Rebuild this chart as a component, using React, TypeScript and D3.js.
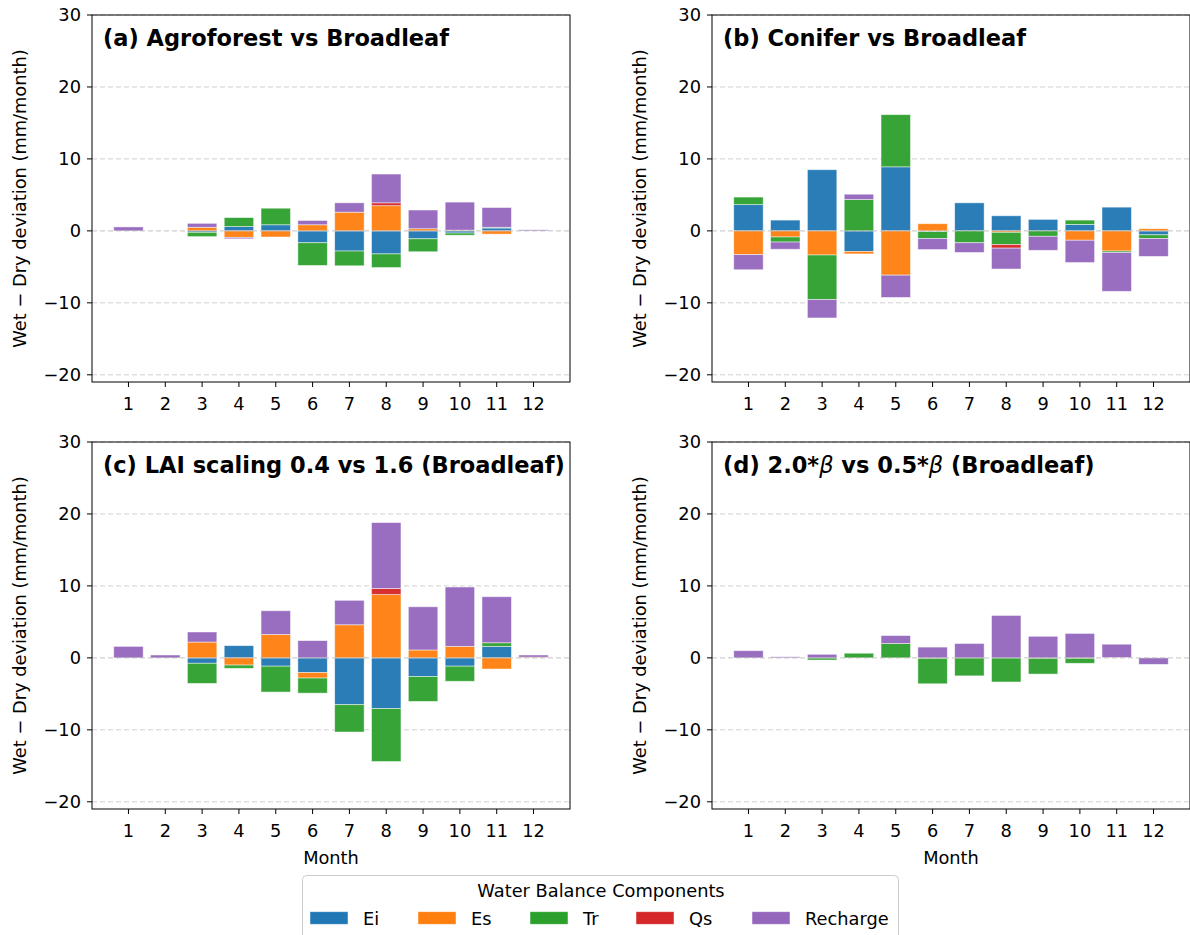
import React from 'react';
import * as d3 from 'd3';

const months = [1, 2, 3, 4, 5, 6, 7, 8, 9, 10, 11, 12];
const components = ['Ei', 'Es', 'Tr', 'Qs', 'Recharge'];
const compColors = ['#1f77b4', '#ff7f0e', '#2ca02c', '#d62728', '#9467bd'];
const yTicks = [-20, -10, 0, 10, 20, 30];

// (a) Agroforest vs Broadleaf
const agroEi = [0, 0, -0.2, 0.6, 0.85, -1.65, -2.8, -3.2, -1.1, -0.3, 0.4, 0];
const agroEs = [0, 0, 0.5, -0.9, -0.85, 0.85, 2.6, 3.5, 0.3, 0.1, -0.45, 0];
const agroTr = [0, 0, -0.6, 1.25, 2.3, -3.15, -2.05, -1.9, -1.8, -0.3, 0.1, 0];
const agroQs = [0, 0, 0, 0, 0, 0, 0, 0.4, 0, 0, 0, 0];
const agroRe = [0.55, 0, 0.55, -0.2, 0, 0.6, 1.3, 4.0, 2.6, 3.9, 2.75, 0.15];

// (b) Conifer vs Broadleaf
const conEi = [3.65, 1.5, 8.5, -2.85, 8.9, -0.1, 3.9, 2.1, 1.6, 0.9, 3.3, -0.55];
const conEs = [-3.3, -0.85, -3.35, -0.35, -6.15, 1.0, 0, -0.2, 0, -1.3, -2.8, 0.3];
const conTr = [1.05, -0.7, -6.2, 4.35, 7.25, -0.95, -1.65, -1.7, -0.75, 0.6, -0.2, -0.5];
const conQs = [0, 0, 0, 0, 0, 0, 0, -0.5, 0, 0, 0, 0];
const conRe = [-2.1, -1.0, -2.55, 0.75, -3.1, -1.55, -1.35, -2.9, -1.95, -3.1, -5.4, -2.5];

// (c) LAI scaling
const laiEi = [0, 0, -0.75, 1.7, -1.15, -2.05, -6.5, -7.05, -2.6, -1.15, 1.6, 0];
const laiEs = [0, 0, 2.2, -1.0, 3.25, -0.75, 4.6, 8.8, 1.1, 1.6, -1.55, 0.1];
const laiTr = [0, 0, -2.8, -0.45, -3.6, -2.1, -3.8, -7.35, -3.45, -2.1, 0.5, 0];
const laiQs = [0, 0, 0, 0, 0, 0, 0, 0.85, 0, 0, 0, 0];
const laiRe = [1.6, 0.4, 1.4, 0, 3.3, 2.4, 3.4, 9.15, 6.0, 8.25, 6.4, 0.3];

// (d) beta scaling
const betaEi = [0, 0, 0, 0, 0, 0, 0, 0, 0, 0, 0, 0];
const betaEs = [0, 0, 0, 0, 0, -0.05, 0, 0, -0.05, -0.05, 0.05, 0];
const betaTr = [0, 0, -0.3, 0.65, 2.0, -3.55, -2.5, -3.35, -2.2, -0.7, 0, 0];
const betaQs = [0, 0, 0, 0, 0, 0, 0, 0, 0, 0, 0, 0];
const betaRe = [1.0, 0.15, 0.5, 0, 1.1, 1.5, 2.0, 5.9, 3.0, 3.4, 1.85, -0.9];

const FONT = 'DejaVu Sans, sans-serif';
const FS = 17.8;
const W = 478;
const H = 367;

const panels = [
  { key: 'a', left: 92, top: 15, series: [agroEi, agroEs, agroTr, agroQs, agroRe], xlabel: false },
  { key: 'b', left: 712, top: 15, series: [conEi, conEs, conTr, conQs, conRe], xlabel: false },
  { key: 'c', left: 92, top: 442, series: [laiEi, laiEs, laiTr, laiQs, laiRe], xlabel: true },
  { key: 'd', left: 712, top: 442, series: [betaEi, betaEs, betaTr, betaQs, betaRe], xlabel: true },
];

const fmt = (t: number) => (t < 0 ? '\u2212' + Math.abs(t) : String(t));

const Title = ({ k }: { k: string }) => {
  if (k === 'a') return <>(a) Agroforest vs Broadleaf</>;
  if (k === 'b') return <>(b) Conifer vs Broadleaf</>;
  if (k === 'c') return <>(c) LAI scaling 0.4 vs 1.6 (Broadleaf)</>;
  return (
    <>
      (d) 2.0*<tspan fontStyle="italic" fontWeight="normal">β</tspan> vs 0.5*<tspan fontStyle="italic" fontWeight="normal">β</tspan> (Broadleaf)
    </>
  );
};

const Panel = ({ p }: { p: typeof panels[number] }) => {
  const x = d3.scaleLinear().domain([0.01, 12.99]).range([0, W]);
  const y = d3.scaleLinear().domain([-21, 30]).range([H, 0]);
  const bw = x(0.8) - x(0);

  const rects: React.ReactNode[] = [];
  months.forEach((m, i) => {
    let pos = 0;
    let neg = 0;
    p.series.forEach((s, c) => {
      const v = s[i];
      if (v === 0) return;
      let y0, y1;
      if (v > 0) {
        y0 = pos; y1 = pos + v; pos = y1;
      } else {
        y0 = neg + v; y1 = neg; neg = y0;
      }
      rects.push(
        <rect key={`${m}-${c}`} x={x(m) - bw / 2} width={bw} y={y(y1)} height={y(y0) - y(y1)}
          fill={compColors[c]} stroke="#fff" strokeOpacity={0.6} strokeWidth={0.8} opacity={0.95} />
      );
    });
  });

  return (
    <g transform={`translate(${p.left},${p.top})`}>
      {yTicks.filter(t => t !== 0).map(t => (
        <line key={t} x1={0} x2={W} y1={y(t)} y2={y(t)} stroke="#b0b0b0" strokeOpacity={0.6}
          strokeDasharray="5,3" strokeWidth={1} />
      ))}
      {rects}
      <line x1={0} x2={W} y1={y(0)} y2={y(0)} stroke="#b0b0b0" strokeOpacity={0.6}
        strokeDasharray="5,3" strokeWidth={1.2} />
      <rect x={0} y={0} width={W} height={H} fill="none" stroke="#000" strokeWidth={1} />
      {yTicks.map(t => (
        <g key={t} transform={`translate(0,${y(t)})`}>
          <line x1={-5} x2={0} stroke="#000" />
          <text x={-11} dy="0.36em" textAnchor="end" fontSize={FS} fontFamily={FONT}>{fmt(t)}</text>
        </g>
      ))}
      {months.map(m => (
        <g key={m} transform={`translate(${x(m)},${H})`}>
          <line y1={0} y2={5} stroke="#000" />
          <text y={27.5} textAnchor="middle" fontSize={FS} fontFamily={FONT}>{m}</text>
        </g>
      ))}
      <text x={11} y={30.5} fontSize={22.5} fontWeight="bold" fontFamily={FONT}><Title k={p.key} /></text>
      <text transform={`translate(${-72},${H / 2}) rotate(-90)`} dy="0.36em" textAnchor="middle" fontSize={FS}
        fontFamily={FONT}>Wet − Dry deviation (mm/month)</text>
      {p.xlabel && (
        <text x={W / 2} y={H + 54.5} textAnchor="middle" fontSize={FS} fontFamily={FONT}>Month</text>
      )}
    </g>
  );
};

const legendX = [310, 418, 530, 636, 752];

export default function App() {
  return (
    <div style={{ position: 'fixed', left: 0, top: 0 }}>
      <svg width={1190} height={935} style={{ display: 'block', background: '#fff' }}>
        {panels.map(p => <Panel key={p.key} p={p} />)}
        <rect x={302.5} y={875.5} width={596} height={80} rx={4} fill="#fff" fillOpacity={0.8}
          stroke="#cccccc" strokeWidth={1} />
        <text x={601} y={897} textAnchor="middle" fontSize={FS} fontFamily={FONT}>Water Balance Components</text>
        {components.map((c, i) => (
          <g key={c}>
            <rect x={legendX[i]} y={911.7} width={38} height={12.6} fill={compColors[i]} stroke="#fff"
              strokeOpacity={0.6} strokeWidth={0.8} />
            <text x={legendX[i] + 53} y={925} fontSize={FS} fontFamily={FONT}>{c}</text>
          </g>
        ))}
      </svg>
    </div>
  );
}
